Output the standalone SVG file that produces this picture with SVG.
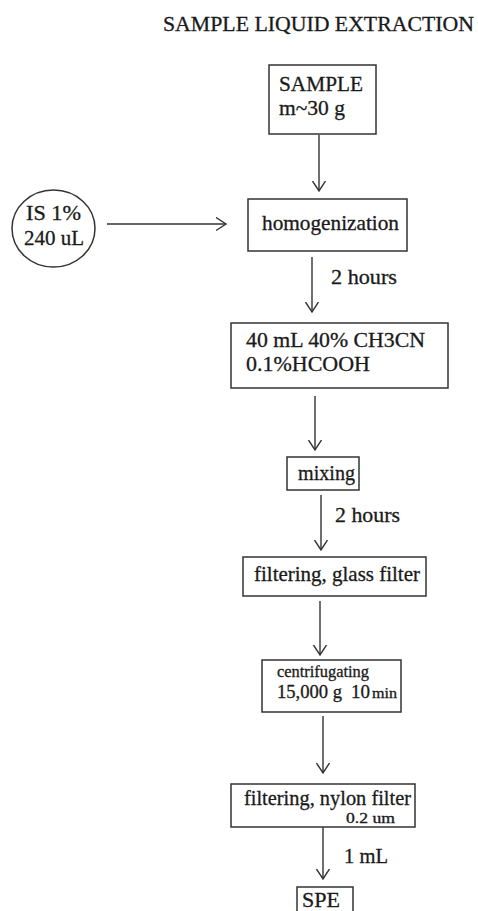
<svg xmlns="http://www.w3.org/2000/svg" width="478" height="911" viewBox="0 0 478 911">
<style>
text{font-family:"Liberation Serif","Times New Roman",serif;fill:#1a1a1a;font-size:21px;stroke:#1a1a1a;stroke-width:0.3}
.box{fill:#fff;stroke:#333;stroke-width:1.5}
.conn line{stroke:#333;stroke-width:1.4}
.sm{font-size:16px}
.xs{font-size:14px}
</style>
<defs>
<marker id="ah" markerUnits="userSpaceOnUse" markerWidth="12" markerHeight="16" refX="10" refY="7" orient="auto">
<path d="M0,0.5 L10,7 L0,13.5" fill="none" stroke="#333" stroke-width="1.4"/>
</marker>
</defs>
<rect width="478" height="911" fill="#fff"/>
<text id="title" x="163" y="31" textLength="311" lengthAdjust="spacingAndGlyphs">SAMPLE LIQUID EXTRACTION</text>
<g class="conn">
<line x1="319" y1="135" x2="319" y2="191" marker-end="url(#ah)"/>
<line x1="107" y1="224" x2="226" y2="224" marker-end="url(#ah)"/>
<line x1="312" y1="257" x2="312" y2="312" marker-end="url(#ah)"/>
<line x1="315" y1="396" x2="315" y2="450" marker-end="url(#ah)"/>
<line x1="321" y1="495" x2="321" y2="550" marker-end="url(#ah)"/>
<line x1="320" y1="601" x2="320" y2="655" marker-end="url(#ah)"/>
<line x1="323" y1="716" x2="323" y2="773" marker-end="url(#ah)"/>
<line x1="323" y1="827" x2="323" y2="879" marker-end="url(#ah)"/>
<text x="331" y="284" textLength="66" lengthAdjust="spacingAndGlyphs">2 hours</text>
<text x="335" y="522" textLength="65" lengthAdjust="spacingAndGlyphs">2 hours</text>
<text x="344" y="863" textLength="44" lengthAdjust="spacingAndGlyphs">1 mL</text>
</g>
<g id="sample">
<rect class="box" x="269" y="65" width="107" height="69"/>
<text x="279" y="91" textLength="84" lengthAdjust="spacingAndGlyphs">SAMPLE</text>
<text x="279" y="115" textLength="66" lengthAdjust="spacingAndGlyphs">m~30 g</text>
</g>
<g id="is">
<ellipse class="box" cx="53.5" cy="228.5" rx="41.5" ry="38.5"/>
<text x="26" y="220" textLength="55" lengthAdjust="spacingAndGlyphs">IS 1%</text>
<text x="24" y="245" textLength="60" lengthAdjust="spacingAndGlyphs">240 uL</text>
</g>
<g id="homogenization">
<rect class="box" x="248" y="199" width="159" height="52"/>
<text x="262" y="230" textLength="137" lengthAdjust="spacingAndGlyphs">homogenization</text>
</g>
<g id="solvent">
<rect class="box" x="231" y="323" width="217" height="65"/>
<text x="246" y="347" textLength="179" lengthAdjust="spacingAndGlyphs">40 mL 40% CH3CN</text>
<text x="246" y="371" textLength="124" lengthAdjust="spacingAndGlyphs">0.1%HCOOH</text>
</g>
<g id="mixing">
<rect class="box" x="287" y="457" width="72" height="33"/>
<text x="298" y="480" textLength="57" lengthAdjust="spacingAndGlyphs">mixing</text>
</g>
<g id="glass">
<rect class="box" x="243" y="557" width="183" height="39"/>
<text x="254" y="581" textLength="166" lengthAdjust="spacingAndGlyphs">filtering, glass filter</text>
</g>
<g id="centrifugating">
<rect class="box" x="262" y="660" width="139" height="52"/>
<text class="sm" x="277" y="677" textLength="92" lengthAdjust="spacingAndGlyphs">centrifugating</text>
<text x="277" y="698" style="font-size:18px" textLength="65" lengthAdjust="spacingAndGlyphs">15,000 g</text>
<text x="351" y="698" style="font-size:18px" textLength="19" lengthAdjust="spacingAndGlyphs">10</text>
<text class="xs" x="372" y="698" textLength="25" lengthAdjust="spacingAndGlyphs">min</text>
</g>
<g id="nylon">
<rect class="box" x="231" y="784" width="184" height="43"/>
<text x="244" y="805" textLength="167" lengthAdjust="spacingAndGlyphs">filtering, nylon filter</text>
<text class="xs" x="346" y="823" textLength="49" lengthAdjust="spacingAndGlyphs">0.2 um</text>
</g>
<g id="spe">
<rect class="box" x="297" y="887" width="56" height="30"/>
<text x="302" y="907" textLength="38" lengthAdjust="spacingAndGlyphs">SPE</text>
</g>
</svg>
